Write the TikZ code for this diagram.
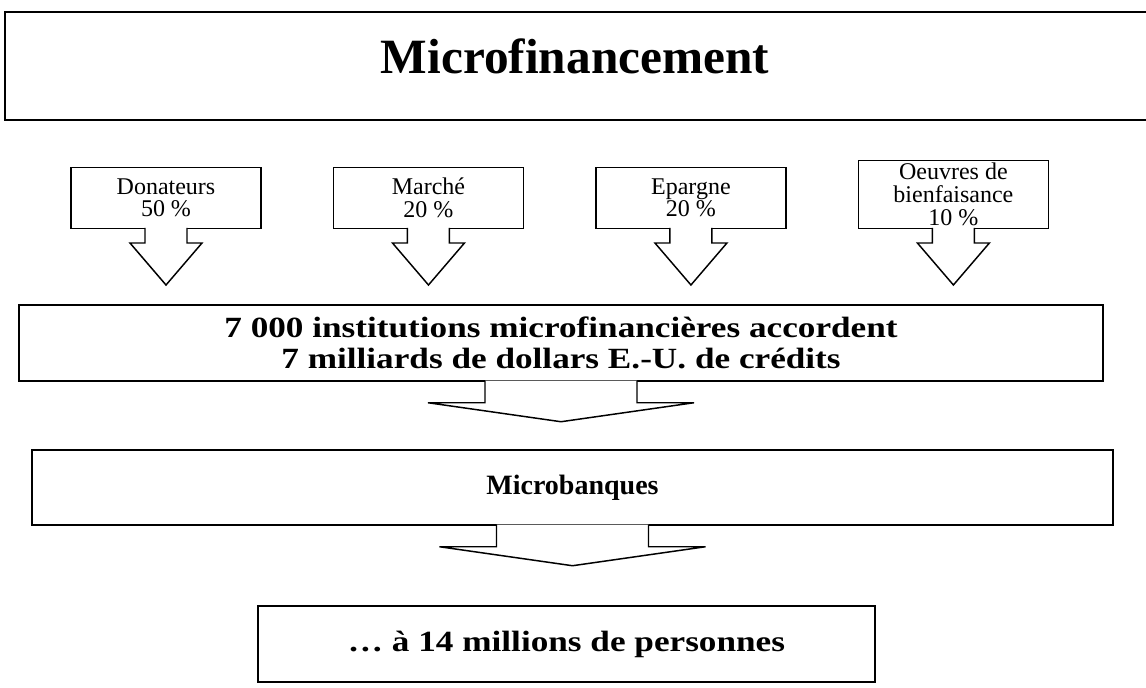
\documentclass[tikz,border=0pt]{standalone}
\usepackage{fontspec}
\setmainfont{Liberation Serif}
\newfontfamily\widefont[FakeStretch=1.2]{Liberation Serif}
\usetikzlibrary{positioning}

\begin{document}
\begin{tikzpicture}[x=0.75pt, y=-0.75pt, line width=1.1pt,
	srcbox/.style={draw, fill=white, minimum width=142.5pt,
	minimum height=45.75pt, inner sep=2pt, align=center,
	font=\fontsize{18}{17}\selectfont},
	bigbox/.style={draw, fill=white, align=center, minimum height=57pt,
	font=\widefont\fontsize{22}{23.5}\selectfont\bfseries}]
			\useasboundingbox (0,0) rectangle (1146,688);

			% cadre du titre, ouvert a droite
			\draw (1150,12) -- (5,12) -- (5,120) -- (1150,120);
			\node [font=\fontsize{37}{42}\selectfont\bfseries]
			(titre) at (575,56) {Microfinancement};

			% les quatre sources
			\node [srcbox, anchor=south] (donateurs) at (166,229)
			{Donateurs\\50~\%};
			\node [srcbox, right=53.25pt of donateurs.south east,
			anchor=south west] (marche) {Marché\\20~\%};
			\node [srcbox, right=53.25pt of marche.south east,
			anchor=south west] (epargne) {Epargne\\20~\%};
			\node [srcbox, right=53.25pt of epargne.south east,
			anchor=south west] (oeuvres) {Oeuvres de\\bienfaisance\\10~\%};

			\node [bigbox, minimum width=813pt] (institutions) at (561,343)
			{7~000 institutions microfinancières accordent\\
			7 milliards de dollars E.-U. de crédits};
			\node [bigbox, minimum width=810.75pt, minimum height=56.25pt,
			font=\fontsize{21}{24}\selectfont\bfseries]
			(microbanques) at (572.5,487.5) {Microbanques};
			\node [bigbox, minimum width=462.75pt] (personnes) at (566.5,644)
			{\dots{} à 14 millions de personnes};

			\foreach \src in {donateurs, marche, epargne, oeuvres}
				\draw [fill=white] ([shift={(-21,-1)}]\src.south) -- ++(0,15)
				-- ++(-15,0) -- ++(36,42) -- ++(36,-42) -- ++(-15,0) -- ++(0,-15);

			\foreach \src in {institutions, microbanques}
				\draw [fill=white] ([shift={(-76,-1)}]\src.south) -- ++(0,22)
				-- ++(-57,0) -- ++(133,19) -- ++(133,-19) -- ++(-57,0) -- ++(0,-22);
		\end{tikzpicture}
\end{document}
